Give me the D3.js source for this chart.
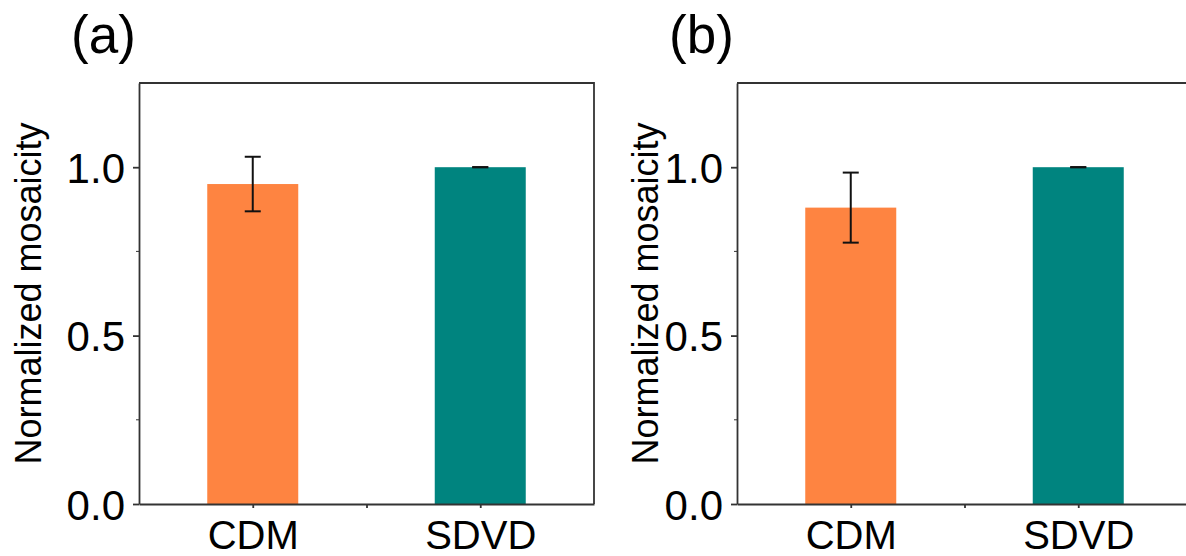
<!DOCTYPE html>
<html>
<head>
<meta charset="utf-8">
<script src="https://cdn.jsdelivr.net/npm/d3@7"></script>
<style>
  body { margin: 0; background: #fff; }
  text { font-family: "Liberation Sans", Arial, sans-serif; fill: #000; }
</style>
</head>
<body>
<div id="chart"></div>
<script>
// categories and values
var categories = ["CDM", "SDVD"];
var panelLabels = ["(a)", "(b)"];
var meansA = [0.95, 1.0];
var errorsA = [0.081, 0.0];
var meansB = [0.88, 1.0];
var errorsB = [0.104, 0.0];
var yTicks = [0.0, 0.5, 1.0];
var yMinor = [0.25, 0.75];
var barColors = ["#fe8441", "#00847f"];

var W = 1186, H = 556;
var svg = d3.select("#chart").append("svg")
    .attr("width", W)
    .attr("height", H);

var y = d3.scaleLinear().domain([0, 1.25]).range([504, 83]);

function drawPanel(left, means, errors, label, titleX){
  var x = d3.scaleLinear().domain([0.5, 2.5]).range([left, left + 455]);
  var g = svg.append("g");
  var data = categories.map(function(c, i){ return {cat: c, pos: i + 1, mean: means[i], err: errors[i]}; });

  // bars
  g.selectAll("rect.bar")
      .data(data)
    .enter().append("rect")
      .attr("class", "bar")
      .attr("x", function(d){ return x(d.pos - 0.2); })
      .attr("width", function(d){ return x(d.pos + 0.2) - x(d.pos - 0.2); })
      .attr("y", function(d){ return y(d.mean); })
      .attr("height", function(d){ return y(0) - y(d.mean); })
      .attr("fill", function(d, i){ return barColors[i]; });

  // error bars
  var eb = g.selectAll("g.err")
      .data(data)
    .enter().append("g")
      .attr("class", "err")
      .attr("stroke", "#111")
      .attr("stroke-width", 2);
  eb.append("line")
      .attr("x1", function(d){ return x(d.pos); })
      .attr("x2", function(d){ return x(d.pos); })
      .attr("y1", function(d){ return y(d.mean + d.err); })
      .attr("y2", function(d){ return y(d.mean - d.err); });
  eb.append("line")
      .attr("x1", function(d){ return x(d.pos) - 8; })
      .attr("x2", function(d){ return x(d.pos) + 8; })
      .attr("y1", function(d){ return y(d.mean + d.err); })
      .attr("y2", function(d){ return y(d.mean + d.err); });
  eb.append("line")
      .attr("x1", function(d){ return x(d.pos) - 8; })
      .attr("x2", function(d){ return x(d.pos) + 8; })
      .attr("y1", function(d){ return y(d.mean - d.err); })
      .attr("y2", function(d){ return y(d.mean - d.err); });

  // frame top + right
  g.append("path")
      .attr("d", "M" + x(0.5) + "," + y(1.25) + "H" + x(2.5) + "V" + y(0))
      .attr("fill", "none")
      .attr("stroke", "#333")
      .attr("stroke-width", 1.8);

  // y axis
  var yAxis = g.append("g")
      .attr("transform", "translate(" + x(0.5) + ",0)")
      .call(d3.axisLeft(y).tickValues(yTicks).tickSize(6).tickPadding(8)
            .tickFormat(d3.format(".1f")).tickSizeOuter(0));
  yAxis.selectAll(".tick text").style("font-size", "42px").attr("dy", "0.36em");
  yAxis.append("g").selectAll("line")
      .data(yMinor)
    .enter().append("line")
      .attr("x1", -3).attr("x2", 0)
      .attr("y1", function(d){ return y(d); })
      .attr("y2", function(d){ return y(d); })
      .attr("stroke", "#333");

  // x axis
  var xAxis = g.append("g")
      .attr("transform", "translate(0," + y(0) + ")")
      .call(d3.axisBottom(x).tickValues([1, 1.5, 2]).tickSize(4).tickPadding(13)
            .tickFormat(function(d){ return d === 1.5 ? "" : categories[d - 1]; })
            .tickSizeOuter(0));
  xAxis.selectAll(".tick text").style("font-size", "40px");

  [yAxis, xAxis].forEach(function(a){
    a.select(".domain").attr("stroke", "#333").attr("stroke-width", 1.8);
    a.selectAll(".tick line").attr("stroke", "#333").attr("stroke-width", 1.8);
    a.attr("font-family", null);
  });

  // y title
  g.append("text")
      .attr("transform", "translate(" + titleX + "," + ((y(0) + y(1.25)) / 2) + ") rotate(-90)")
      .attr("text-anchor", "middle")
      .style("font-size", "36px")
      .text("Normalized mosaicity");

  // panel label
  g.append("text")
      .attr("x", left - 68)
      .attr("y", 53)
      .style("font-size", "53px")
      .text(label);
}

drawPanel(139, meansA, errorsA, panelLabels[0], 41);
drawPanel(737, meansB, errorsB, panelLabels[1], 658);
</script>
</body>
</html>
